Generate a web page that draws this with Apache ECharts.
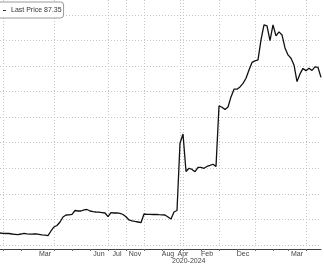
<!DOCTYPE html>
<html>
<head>
<meta charset="utf-8">
<script src="https://cdn.jsdelivr.net/npm/echarts@6/dist/echarts.min.js"></script>
<style>html,body{margin:0;padding:0;background:#fff;}#c{width:324px;height:265px;}</style>
</head>
<body>
<div id="c"></div>
<script>
// Series: Last Price (one sample per category step)
const prices = [
  50.82,50.75,50.70,50.70,50.58,50.51,50.42,50.58,50.75,50.63,
  50.54,50.58,50.63,50.51,50.39,50.30,50.18,51.29,52.23,52.58,
  53.40,54.57,55.04,55.09,55.21,56.10,55.98,55.98,56.26,56.33,
  55.98,55.82,55.75,55.70,55.61,55.51,54.64,55.58,55.51,55.56,
  55.44,55.16,54.64,53.87,53.68,53.52,53.40,53.24,55.28,55.21,
  55.21,55.16,55.16,55.11,55.09,55.04,54.57,54.10,55.75,56.10,
  71.88,74.06,65.26,66.01,65.73,65.21,66.20,66.20,66.01,66.43,
  66.67,66.95,66.43,80.63,80.33,79.81,80.40,82.75,84.56,84.56,
  85.10,85.92,87.14,89.09,90.85,91.20,91.43,96.13,99.65,99.42,
  95.97,99.65,97.07,98.01,97.30,94.25,92.61,91.83,90.26,86.34,
  88.15,89.44,88.92,89.49,88.97,89.79,89.67,87.35
];
const categories = prices.map((_, i) => String(i));
// Date tick labels (category index -> text)
const tickLabelIndex = [15, 33, 39, 45, 56, 61, 69, 81, 99];
const tickLabelText  = ['Mar', 'Jun', 'Jul', 'Nov', 'Aug', 'Apr', 'Feb', 'Dec', 'Mar'];
// Vertical grid boundaries (category indices)
const gridLineIndex = [1, 18, 36, 42, 48, 60, 61, 73, 85, 102];
const minorTickIndex = [7, 24, 30, 54, 67, 79, 91, 96];
const axisTitle = '2020-2024';
const seriesName = 'Last Price';
const lastPrice = 87.35;

const labelMap = {};
tickLabelIndex.forEach((idx, k) => { labelMap[idx] = tickLabelText[k]; });

const FONT = 'Liberation Sans';
const chart = echarts.init(document.getElementById('c'), null, {renderer: 'canvas'});
chart.setOption({
  animation: false,
  backgroundColor: '#fff',
  grid: {left: 0, right: 3, top: 0, bottom: 20, containLabel: false},
  legend: {
    show: true,
    left: -4, top: 2,
    padding: [5, 2, 4, 7],
    itemWidth: 3, itemHeight: 1, itemGap: 2,
    icon: 'rect',
    borderColor: '#9a9a9a', borderWidth: 1, borderRadius: 3,
    backgroundColor: '#fff',
    textStyle: {fontSize: 7, color: '#333', fontFamily: FONT, padding: 0},
    formatter: name => name + ' ' + lastPrice.toFixed(2),
    data: [{name: seriesName, itemStyle: {color: '#333'}}]
  },
  xAxis: {
    type: 'category',
    data: categories,
    boundaryGap: false,
    offset: 4,
    axisLine: {show: true, lineStyle: {color: '#444', width: 1}},
    axisTick: {show: true, length: 2, lineStyle: {color: '#666'},
      interval: (i) => gridLineIndex.includes(i) || minorTickIndex.includes(i)},
    axisLabel: {show: true, fontSize: 7, color: '#444', fontFamily: FONT, margin: 2,
      interval: (i) => labelMap[i] !== undefined,
      formatter: (v, i) => labelMap[i] || ''},
    splitLine: {show: true, interval: (i) => gridLineIndex.includes(i),
      lineStyle: {color: '#c4c4c4', type: [1, 2], width: 1}}
  },
  yAxis: {
    type: 'value',
    min: 48, max: 105.5, interval: 6,
    axisLine: {show: false}, axisTick: {show: false}, axisLabel: {show: false},
    splitLine: {show: true, lineStyle: {
      color: ['#c4c4c4','#c4c4c4','#c4c4c4','#c4c4c4','#c4c4c4','#c4c4c4','#c4c4c4','#c4c4c4','#c4c4c4','#c4c4c4','rgba(0,0,0,0)'],
      type: [1, 2], width: 1}}
  },
  series: [{
    name: seriesName,
    type: 'line',
    data: prices,
    showSymbol: false,
    symbol: 'none',
    lineStyle: {color: '#111', width: 1.3},
    itemStyle: {color: '#111'}
  }],
  graphic: [{
    type: 'text', left: 172, top: 258,
    style: {text: axisTitle, fontSize: 7, fill: '#444', fontFamily: FONT}
  }]
});
</script>
</body>
</html>
